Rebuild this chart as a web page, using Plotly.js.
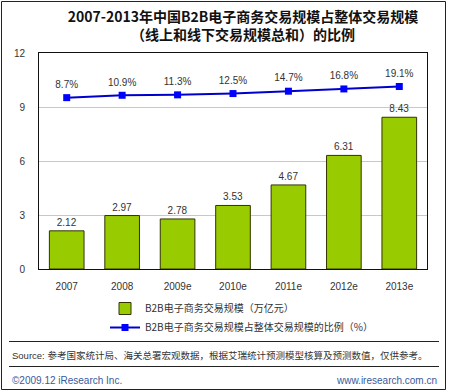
<!DOCTYPE html>
<html>
<head>
<meta charset="utf-8">
<script src="https://cdn.plot.ly/plotly-3.0.1.min.js"></script>
<style>html,body{margin:0;padding:0;background:#fff;}#chart{width:450px;height:391px;}</style>
</head>
<body>
<div id="chart"></div>
<script>
const years = ['2007', '2008', '2009e', '2010e', '2011e', '2012e', '2013e'];
const b2bScale = [2.12, 2.97, 2.78, 3.53, 4.67, 6.31, 8.43];
const b2bShare = [8.7, 10.9, 11.3, 12.5, 14.7, 16.8, 19.1];
const yTicks = [0, 3, 6, 9, 12];
const barName = 'B2B电子商务交易规模（万亿元）';
const lineName = 'B2B电子商务交易规模占整体交易规模的比例（%）';

const FONT = 'Liberation Sans, Arial, Noto Sans CJK SC, sans-serif';
const CJK = 'Noto Sans CJK SC, sans-serif';

// plot area in px: left 39, right 427, top 53, bottom 269
const L = 39, R = 427, T = 53, B = 269;
const px = x => (x - L) / (R - L);
const py = y => (B - y) / (B - T);

const traces = [
  {
    type: 'bar', x: years, y: b2bScale, name: barName,
    marker: {color: '#99CC00', line: {color: '#333300', width: 1}},
    text: b2bScale.map(v => v.toFixed(2)), textposition: 'outside',
    textfont: {family: FONT, size: 10, color: '#333'},
    cliponaxis: false, hoverinfo: 'x+y'
  },
  {
    type: 'scatter', mode: 'lines+markers', x: years, y: b2bShare, name: lineName,
    yaxis: 'y2',
    line: {color: '#0000CC', width: 2},
    marker: {symbol: 'square', size: 7, color: '#0000FF'}
  },
  {
    type: 'scatter', mode: 'markers+text', x: years, y: b2bShare, yaxis: 'y2',
    showlegend: false, hoverinfo: 'skip',
    marker: {size: 10, opacity: 0},
    text: b2bShare.map(v => v.toFixed(1) + '%'), textposition: 'top center',
    textfont: {family: FONT, size: 10, color: '#333'}, cliponaxis: false
  }
];

const layout = {
  width: 450, height: 391,
  margin: {l: L, r: 450 - R, t: T, b: 391 - B, pad: 0},
  paper_bgcolor: '#fff', plot_bgcolor: '#fff',
  showlegend: true,
  title: {
    text: '2007-2013年中国B2B电子商务交易规模占整体交易规模<br>（线上和线下交易规模总和）的比例',
    font: {family: CJK, size: 14, color: '#111', weight: 'bold'},
    x: 0.54, xanchor: 'center', y: 1 - 21.5 / 391, yanchor: 'top', yref: 'container'
  },
  bargap: 0.375,
  xaxis: {
    type: 'category', showgrid: false, zeroline: false,
    showline: true, linecolor: '#111', linewidth: 1, mirror: true,
    ticks: '', ticklabelstandoff: 8,
    tickfont: {family: FONT, size: 10, color: '#333'}
  },
  yaxis: {
    range: [0, 12], tickvals: yTicks, ticktext: yTicks.map(String),
    showgrid: true, gridcolor: '#C8C8C8', gridwidth: 1, zeroline: false,
    showline: true, linecolor: '#111', linewidth: 1, mirror: true,
    ticks: '', ticklabelstandoff: 11,
    tickfont: {family: FONT, size: 10, color: '#333'}
  },
  yaxis2: {
    overlaying: 'y', side: 'right', range: [-151, 50.3],
    visible: false, showgrid: false, zeroline: false
  },
  legend: {
    x: px(105), xanchor: 'left', y: py(294), yanchor: 'top',
    orientation: 'v', bgcolor: 'rgba(0,0,0,0)',
    font: {family: CJK, size: 10, color: '#333'},
    tracegroupgap: 0
  },
  shapes: [
    {type: 'rect', xref: 'paper', yref: 'paper', x0: px(1.5), x1: px(445.5), y0: py(389.5), y1: py(1.5),
     line: {color: '#222', width: 1}},
    {type: 'line', xref: 'paper', yref: 'paper', x0: px(9), x1: px(439), y0: py(341.5), y1: py(341.5),
     line: {color: '#222', width: 1}},
    {type: 'line', xref: 'paper', yref: 'paper', x0: px(9), x1: px(439), y0: py(366.5), y1: py(366.5),
     line: {color: '#222', width: 1}}
  ],
  annotations: [
    {xref: 'paper', yref: 'paper', x: px(10), y: py(355), xanchor: 'left', yanchor: 'middle', showarrow: false,
     text: 'Source: 参考国家统计局、海关总署宏观数据，根据艾瑞统计预测模型核算及预测数值，仅供参考。',
     font: {family: FONT, size: 9.5, color: '#333'}},
    {xref: 'paper', yref: 'paper', x: px(10), y: py(380), xanchor: 'left', yanchor: 'middle', showarrow: false,
     text: '©2009.12 iResearch Inc.', font: {family: FONT, size: 10, color: '#3A5A9A'}},
    {xref: 'paper', yref: 'paper', x: px(439), y: py(380), xanchor: 'right', yanchor: 'middle', showarrow: false,
     text: 'www.iresearch.com.cn', font: {family: FONT, size: 10, color: '#3A5A9A'}}
  ]
};

Plotly.newPlot('chart', traces, layout, {displayModeBar: false, staticPlot: true});
</script>
</body>
</html>
